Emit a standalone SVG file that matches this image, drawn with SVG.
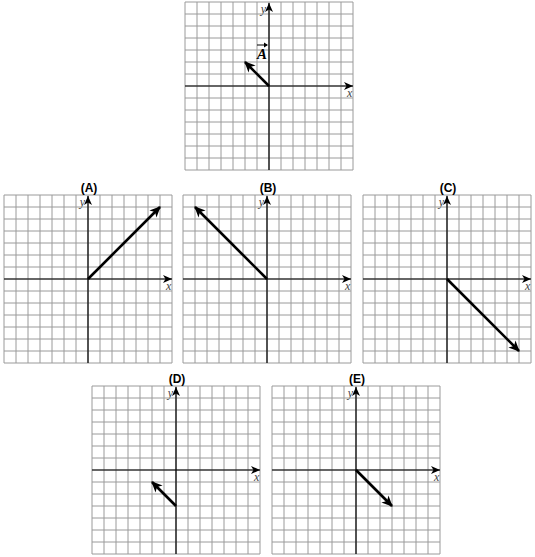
<svg xmlns="http://www.w3.org/2000/svg" xmlns:xlink="http://www.w3.org/1999/xlink" width="535" height="557" viewBox="0 0 535 557">
<style>
.gl{stroke:#9a9a9a;stroke-width:1;fill:none}
.ax{stroke:#000;stroke-width:1.2;fill:none}
.vec{stroke:#000;stroke-width:2.6;fill:none}
.lab{font-family:"Liberation Serif",serif;font-style:italic;font-size:12px;fill:#444}
.ttl{font-family:"Liberation Sans",Arial,sans-serif;font-weight:bold;font-size:12px;fill:#000;text-anchor:middle}
</style>
<defs>
<marker id="ah" markerUnits="userSpaceOnUse" markerWidth="12" markerHeight="12" viewBox="0 0 12 12" refX="10" refY="6" orient="auto">
<path d="M0,1 L11,6 L0,11 L3,6 Z" fill="#000"/>
</marker>
<marker id="ahs" markerUnits="userSpaceOnUse" markerWidth="10" markerHeight="10" viewBox="0 0 10 10" refX="9" refY="5" orient="auto">
<path d="M0,1 L9,5 L0,9 L2.5,5 Z" fill="#000"/>
</marker>
<g id="grid">
<path class="gl" d="M0,0V168M12,0V168M24,0V168M36,0V168M48,0V168M60,0V168M72,0V168M84,0V168M96,0V168M108,0V168M120,0V168M132,0V168M144,0V168M156,0V168M168,0V168M0,0H168M0,12H168M0,24H168M0,36H168M0,48H168M0,60H168M0,72H168M0,84H168M0,96H168M0,108H168M0,120H168M0,132H168M0,144H168M0,156H168M0,168H168"/>
<line class="ax" x1="0" y1="84" x2="168" y2="84" marker-end="url(#ahs)"/>
<line class="ax" x1="84" y1="168" x2="84" y2="1" marker-end="url(#ahs)"/>
<text class="lab" x="81" y="11" text-anchor="end">y</text>
<text class="lab" x="162" y="95">x</text>
</g>
</defs>
<g id="top">
<use xlink:href="#grid" href="#grid" x="185" y="2"/>
<line class="vec" x1="269" y1="86" x2="245" y2="62" marker-end="url(#ah)"/>
<text x="257" y="59" font-family="Liberation Serif,serif" font-style="italic" font-weight="bold" font-size="15" fill="#000">A</text>
<line x1="257" y1="45" x2="267" y2="45" stroke="#000" stroke-width="1"/>
<path d="M264,42.5 L268,45 L264,47.5 Z" fill="#000"/>
</g>
<g id="optA">
<use xlink:href="#grid" href="#grid" x="4" y="195"/>
<text class="ttl" x="89" y="192">(A)</text>
<line class="vec" x1="88" y1="279" x2="160" y2="207" marker-end="url(#ah)"/>
</g>
<g id="optB">
<use xlink:href="#grid" href="#grid" x="183" y="195"/>
<text class="ttl" x="268" y="192">(B)</text>
<line class="vec" x1="267" y1="279" x2="195" y2="207" marker-end="url(#ah)"/>
</g>
<g id="optC">
<use xlink:href="#grid" href="#grid" x="363" y="195"/>
<text class="ttl" x="448" y="192">(C)</text>
<line class="vec" x1="447" y1="279" x2="519" y2="351" marker-end="url(#ah)"/>
</g>
<g id="optD">
<use xlink:href="#grid" href="#grid" x="92" y="386"/>
<text class="ttl" x="177" y="383">(D)</text>
<line class="vec" x1="176" y1="506" x2="152" y2="482" marker-end="url(#ah)"/>
</g>
<g id="optE">
<use xlink:href="#grid" href="#grid" x="272" y="386"/>
<text class="ttl" x="357" y="383">(E)</text>
<line class="vec" x1="356" y1="470" x2="392" y2="506" marker-end="url(#ah)"/>
</g>
<g id="connectors"></g>
</svg>
